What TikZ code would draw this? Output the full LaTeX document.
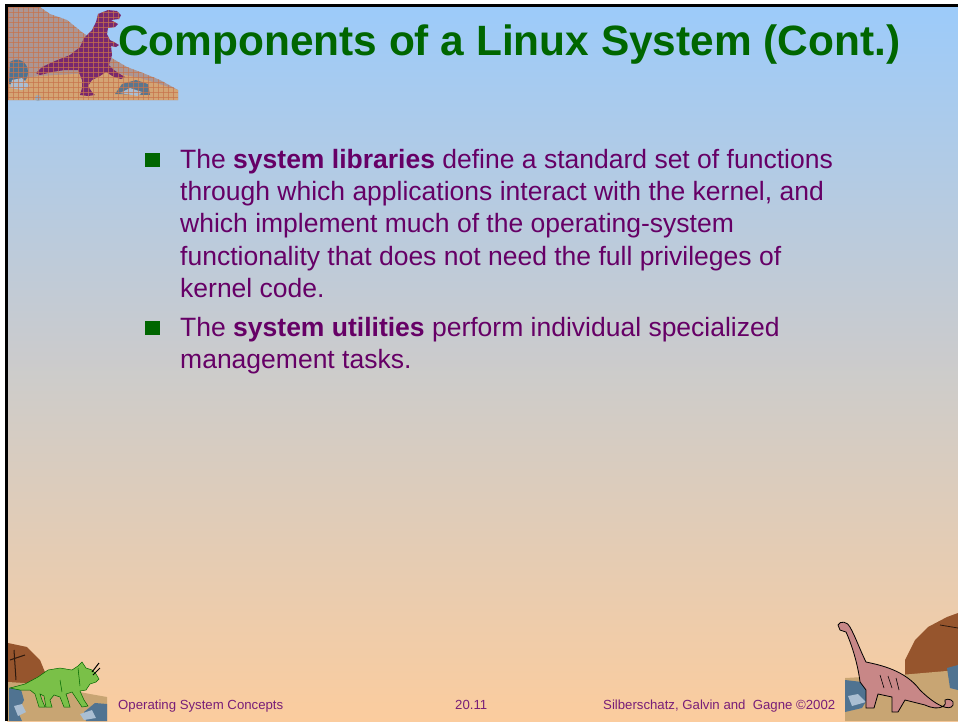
\documentclass[tikz,border=0pt]{standalone}
\usepackage{fontspec}
\setmainfont{Liberation Sans}
\definecolor{skyblue}{RGB}{156,203,250}
\definecolor{peach}{RGB}{251,204,158}
\definecolor{titlegreen}{RGB}{0,102,0}
\definecolor{bodypurple}{RGB}{102,0,102}
\definecolor{footpurple}{RGB}{120,30,120}
\definecolor{hillgray}{RGB}{172,150,148}
\definecolor{gridorange}{RGB}{200,115,75}
\definecolor{sandtan}{RGB}{212,164,116}
\definecolor{rexpurple}{RGB}{120,40,110}
\definecolor{rockblue}{RGB}{80,115,145}
\definecolor{rocklight}{RGB}{170,190,210}
\definecolor{rockbrown}{RGB}{150,85,45}
\definecolor{sandb}{RGB}{200,165,115}
\definecolor{trigreen}{RGB}{122,192,72}
\definecolor{bronto}{RGB}{200,135,135}
\tikzset{
  line/.style={anchor=base west,text=bodypurple,inner sep=0pt,font=\fontsize{26.5}{32}\selectfont},
  foot/.style={anchor=base west,text=footpurple,inner sep=0pt,font=\fontsize{13.2}{16}\selectfont},
  bulletsq/.style={fill=titlegreen,draw=none}
}
\def\hillpath{(8,7) -- (40,7) -- (50,14) -- (67,20) -- (83,33) -- (100,43) -- (110,57) -- (127,67) -- (143,73) -- (160,80) -- (178,90) -- (178,100) -- (8,100) -- cycle}
\def\rexpath{(98,14) -- (108,10) -- (117,11) -- (121,15) -- (119,19) -- (111,20) -- (118,24) -- (115,27) -- (108,28) -- (107,34) -- (110,40) -- (114,42) -- (119,45) -- (116,47) -- (111,46) -- (112,55) -- (109,65) -- (114,70) -- (120,74) -- (125,77) -- (121,79) -- (114,77) -- (106,72) -- (100,76) -- (92,80) -- (88,86) -- (92,92) -- (95,95) -- (88,96) -- (80,95) -- (82,88) -- (82,80) -- (78,70) -- (65,70) -- (52,72) -- (40,75) -- (36,73) -- (42,67) -- (55,61) -- (70,55) -- (80,47) -- (84,38) -- (92,30) -- (96,22) -- cycle}
\begin{document}
\begin{tikzpicture}[x=1pt,y=-1pt]
\useasboundingbox (0,0) rectangle (958,721);
\fill[white] (0,0) rectangle (958,721);
\shade[top color=skyblue,bottom color=peach] (7,5) rectangle (958,721);
% frame
\draw[black,line width=3pt] (6.5,721) -- (6.5,5) -- (958,5);

% ---------- top-left clip art ----------
\fill[hillgray] \hillpath;
\path[fill=sandtan] (8,80) -- (40,76) -- (110,72) -- (140,78) -- (178,90) -- (178,100) -- (8,100) -- cycle;
\fill[rockblue] (10,62) .. controls (18,56) and (28,62) .. (28,72) .. controls (28,82) and (20,86) .. (12,84) -- (9,84) -- cycle;
\fill[rocklight] (12,80) -- (22,78) -- (30,86) -- (22,90) -- (10,88) -- cycle;
\fill[rockblue!80!gray] (115,94) -- (122,84) -- (136,80) -- (148,84) -- (150,95) -- cycle;
\fill[rocklight] (120,93) -- (130,88) -- (142,92) -- (138,96) -- cycle;
\fill[rockblue!60] (38,98) circle (3);
\fill[rexpurple] \rexpath;
\begin{scope}
\clip \hillpath \rexpath;
\foreach \i in {0,...,35} {\draw[gridorange,line width=0.8pt,opacity=0.7] (8+5*\i,7) -- (8+5*\i,100);}
\foreach \j in {0,...,19} {\draw[gridorange,line width=0.8pt,opacity=0.7] (8,7+5*\j) -- (178,7+5*\j);}
\end{scope}

% ---------- bottom-left clip art ----------
\fill[rockbrown] (8,643) -- (27,647) -- (40,660) -- (47,677) -- (52,685) -- (8,690) -- cycle;
\draw[black!70!rockbrown,line width=1pt] (14,650) -- (16,680) (10,660) -- (25,655);
\fill[sandb] (8,682) -- (40,684) -- (70,690) -- (90,694) -- (107,697) -- (107,721) -- (8,721) -- cycle;
\fill[rockblue] (9,688) -- (20,686) -- (24,700) -- (18,712) -- (22,721) -- (9,721) -- cycle;
\fill[rocklight] (14,706) -- (22,704) -- (26,712) -- (18,716) -- cycle;
\fill[rockblue] (84,712) -- (95,703) -- (107,704) -- (107,721) -- (86,721) -- cycle;
\fill[rocklight] (80,714) -- (92,710) -- (96,718) -- (84,720) -- cycle;
\path[fill=trigreen,draw=black!60!green,line width=0.5pt] (10,688) -- (25,684) -- (38,677) -- (48,670) -- (60,668) -- (72,670) -- (78,666) -- (82,662) -- (86,668) -- (92,670) -- (96,674) -- (99,679) -- (96,682) -- (90,684) -- (86,690) -- (80,691) -- (84,700) -- (88,706) -- (82,707) -- (76,698) -- (72,692) -- (66,694) -- (68,700) -- (70,707) -- (64,707) -- (60,697) -- (54,695) -- (50,700) -- (52,707) -- (46,707) -- (44,696) -- (40,694) -- (42,700) -- (45,707) -- (39,707) -- (35,694) -- (30,690) -- (20,690) -- cycle;
\draw[black,line width=1pt] (92,672) -- (99,663) (93,675) -- (100,668);
\draw[black!60!green,line width=0.5pt] (78,668) -- (80,686) (60,680) -- (62,692);

% ---------- bottom-right clip art ----------
\fill[rockbrown] (905,660) -- (915,640) -- (928,627) -- (947,617) -- (958,613) -- (958,690) -- (905,690) -- cycle;
\draw[black!70!rockbrown,line width=0.8pt] (940,625) -- (958,628);
\fill[sandb] (845,678) -- (900,675) -- (958,670) -- (958,721) -- (845,721) -- cycle;
\fill[rockblue] (845,680) -- (862,682) -- (870,695) -- (862,708) -- (845,712) -- cycle;
\fill[rocklight] (848,696) -- (858,694) -- (866,702) -- (852,706) -- cycle;
\fill[rockblue] (947,668) -- (958,665) -- (958,690) -- (950,688) -- cycle;
\path[fill=bronto,draw=black,line width=0.8pt] (838,625) .. controls (840,620) and (848,622) .. (850,627) .. controls (856,638) and (860,650) .. (866,662) .. controls (880,665) and (905,670) .. (920,690) .. controls (935,705) and (950,712) .. (953,705) .. controls (955,700) and (948,698) .. (945,700) .. controls (948,705) and (940,712) .. (925,705) -- (905,700) -- (898,712) -- (892,712) -- (892,697) -- (878,694) -- (874,708) -- (866,708) -- (866,690) -- (860,682) .. controls (858,665) and (852,645) .. (846,632) -- (840,630) -- cycle;
\draw[black,line width=0.6pt] (880,675) -- (884,688) (888,676) -- (892,688) (896,678) -- (899,690);

% ---------- title ----------
\node[anchor=base west,inner sep=0pt,text=titlegreen,font=\fontsize{42.4}{50}\selectfont\bfseries] (title) at (118,55) {Components of a Linux System (Cont.)};

% ---------- bullets ----------
\fill[bulletsq] (145,153) rectangle (160,167);
\node[line] (l1) at (180,168) {The \textbf{system libraries} define a standard set of functions};
\node[line] (l2) at (180,200) {through which applications interact with the kernel, and};
\node[line] (l3) at (180,232) {which implement much of the operating-system};
\node[line] (l4) at (180,265) {functionality that does not need the full privileges of};
\node[line] (l5) at (180,297) {kernel code.};
\fill[bulletsq] (145,321) rectangle (160,335);
\node[line] (l6) at (180,336) {The \textbf{system utilities} perform individual specialized};
\node[line] (l7) at (180,368) {management tasks.};

% ---------- footer ----------
\node[foot] (f1) at (118,709) {Operating System Concepts};
\node[foot] (f2) at (455,709) {20.11};
\node[foot] (f3) at (603,709) {Silberschatz, Galvin and\ \ Gagne ©2002};
\end{tikzpicture}
\end{document}
